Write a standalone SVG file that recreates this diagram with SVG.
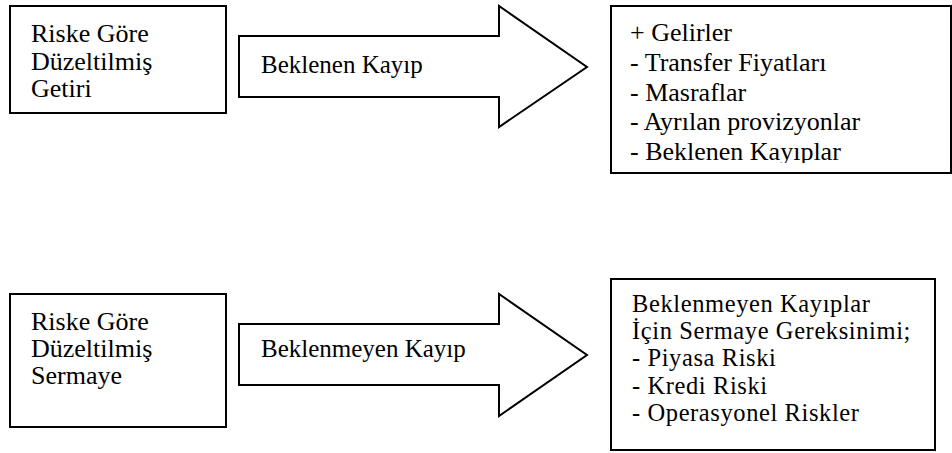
<svg xmlns="http://www.w3.org/2000/svg" width="952" height="453" viewBox="0 0 952 453">
  <style>
    .box { fill: #ffffff; stroke: #000000; stroke-width: 2; }
    .arrow { fill: #ffffff; stroke: #000000; stroke-width: 2; stroke-linejoin: miter; }
    text { font-family: "Liberation Serif", "Times New Roman", serif; font-size: 26px; fill: #000000; }
    .label { font-size: 25px; }
    .tight { font-size: 24.5px; letter-spacing: 0.6px; }
  </style>
  <defs>
    <clipPath id="clip-income">
      <rect x="612" y="7" width="339" height="156"/>
    </clipPath>
  </defs>
  <rect width="952" height="453" fill="#ffffff"/>

  <!-- block arrows between the boxes -->
  <g id="connectors">
    <g id="arrow-expected">
      <polygon class="arrow" points="239,36 499,36 499,6 587,67 499,127 499,97 239,97"/>
      <text class="label" x="261" y="73">Beklenen Kayıp</text>
    </g>
    <g id="arrow-unexpected">
      <polygon class="arrow" points="239,324 499,324 499,294 587,355 499,416 499,385 239,385"/>
      <text class="label" x="261" y="357">Beklenmeyen Kayıp</text>
    </g>
  </g>

  <!-- risk adjusted return -->
  <g id="node-return">
    <rect class="box" x="10" y="6" width="216" height="107"/>
    <text x="31" y="42">Riske Göre</text>
    <text x="31" y="70">Düzeltilmiş</text>
    <text x="31" y="97">Getiri</text>
  </g>

  <!-- income statement items -->
  <g id="node-income">
    <rect class="box" x="611" y="6" width="340" height="167"/>
    <g clip-path="url(#clip-income)">
      <text x="630" y="41">+ Gelirler</text>
      <text x="630" y="71">- Transfer Fiyatları</text>
      <text x="630" y="101">- Masraflar</text>
      <text x="630" y="130">- Ayrılan provizyonlar</text>
      <text x="630" y="160">- Beklenen Kayıplar</text>
    </g>
  </g>

  <!-- risk adjusted capital -->
  <g id="node-capital">
    <rect class="box" x="10" y="294" width="216" height="133"/>
    <text x="31" y="330">Riske Göre</text>
    <text x="31" y="357">Düzeltilmiş</text>
    <text x="31" y="384">Sermaye</text>
  </g>

  <!-- capital requirement for unexpected losses -->
  <g id="node-requirement">
    <rect class="box" x="611" y="279" width="324" height="171"/>
    <text class="tight" x="632" y="312">Beklenmeyen Kayıplar</text>
    <text class="tight" x="632" y="339.2">İçin Sermaye Gereksinimi;</text>
    <text class="tight" x="632" y="366.4">- Piyasa Riski</text>
    <text class="tight" x="632" y="393.6">- Kredi Riski</text>
    <text class="tight" x="632" y="420.8">- Operasyonel Riskler</text>
  </g>
</svg>
